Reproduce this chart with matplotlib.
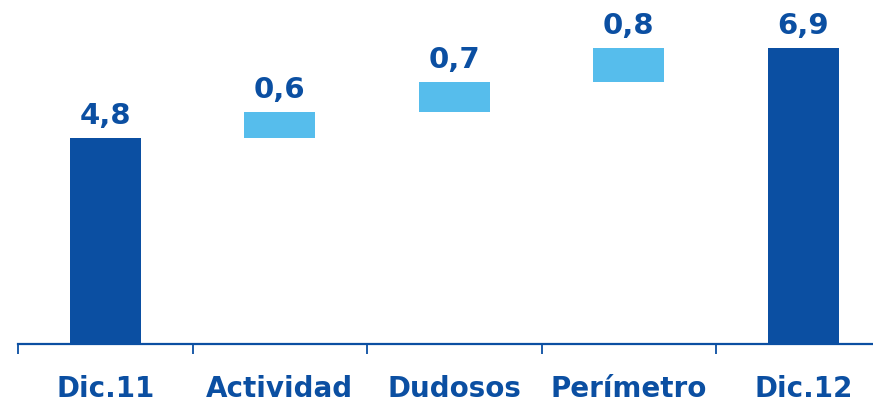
import numpy as np
import matplotlib
matplotlib.use("Agg")
import matplotlib.pyplot as plt

categories = ["Dic.11", "Actividad", "Dudosos", "Perímetro", "Dic.12"]
values = [4.8, 0.6, 0.7, 0.8, 6.9]
is_total = [True, False, False, False, True]
labels = ["4,8", "0,6", "0,7", "0,8", "6,9"]

dark = "#0B4FA2"
light = "#56BDEC"

plt.rcParams['font.family'] = ['DejaVu Sans']

fig = plt.figure(figsize=(8.73, 4.03), dpi=100)
ax = fig.add_axes([18 / 873, 59 / 403, 872.5 / 873, 344 / 403])

# waterfall bottoms: totals start at 0, deltas stack on running sum
bottoms = []
running = 0.0
for v, t in zip(values, is_total):
    if t:
        bottoms.append(0.0)
        running = v
    else:
        bottoms.append(running)
        running += v

x = np.arange(len(categories))
colors = [dark if t else light for t in is_total]
bars = ax.bar(x, values, bottom=bottoms, width=0.405, color=colors)

for xi, b, v, lab in zip(x, bottoms, values, labels):
    ax.annotate(lab, (xi, b + v), xytext=(0, 6), textcoords="offset points",
                ha="center", va="bottom", fontsize=21, fontweight="bold",
                color=dark)

ax.set_xlim(-0.5, 4.5)
ax.set_ylim(0, 344 / 42.9)

for s in ["top", "right", "left"]:
    ax.spines[s].set_visible(False)
ax.spines["bottom"].set_color(dark)
ax.spines["bottom"].set_linewidth(1.6)
ax.set_yticks([])

ax.set_xticks(x)
ax.set_xticklabels(categories, fontsize=20, fontweight="bold", color=dark)
ax.tick_params(axis="x", which="major", length=0, pad=22)
ax.set_xticks(np.arange(-0.5, 5, 1), minor=True)
ax.tick_params(axis="x", which="minor", length=7, width=1.3, color=dark)

fig.savefig("out.png", dpi=100)
